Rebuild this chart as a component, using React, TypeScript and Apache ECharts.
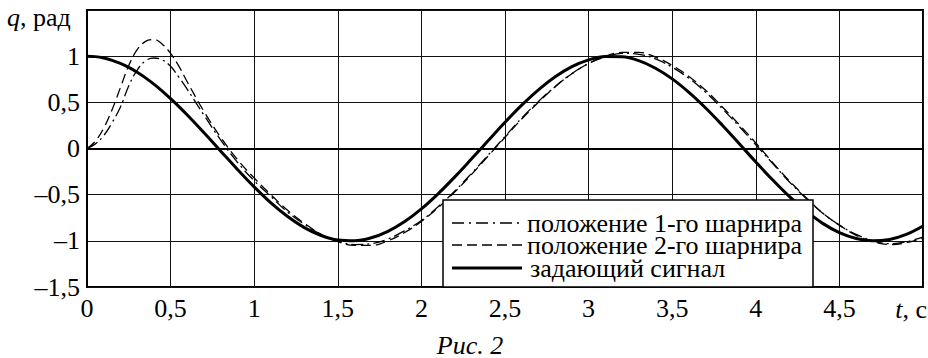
import React, { useEffect, useRef } from "react";
import * as echarts from "echarts";

const times = [0, 0.05, 0.1, 0.15, 0.2, 0.25, 0.3, 0.35, 0.4, 0.45, 0.5, 0.55, 0.6, 0.7, 0.8, 0.9, 1.0, 1.1, 1.2, 1.3, 1.4, 1.5, 1.6, 1.7, 1.8, 1.9, 2.0, 2.1, 2.2, 2.3, 2.4, 2.5, 2.6, 2.7, 2.8, 2.9, 3.0, 3.1, 3.2, 3.3, 3.4, 3.5, 3.6, 3.7, 3.8, 3.9, 4.0, 4.1, 4.2, 4.3, 4.4, 4.5, 4.6, 4.7, 4.8, 4.9, 5.0];

const joint1 = [0, 0.05, 0.14, 0.28, 0.45, 0.68, 0.85, 0.95, 0.98, 0.96, 0.89, 0.77, 0.64, 0.36, 0.09, -0.15, -0.35, -0.52, -0.69, -0.82, -0.93, -1.0, -1.04, -1.03, -0.98, -0.89, -0.78, -0.63, -0.46, -0.27, -0.07, 0.13, 0.33, 0.51, 0.67, 0.81, 0.92, 0.99, 1.03, 1.02, 0.97, 0.88, 0.76, 0.61, 0.43, 0.24, 0.04, -0.16, -0.36, -0.54, -0.7, -0.83, -0.93, -1.0, -1.03, -1.01, -0.96];

const joint2 = [0, 0.08, 0.22, 0.42, 0.66, 0.9, 1.07, 1.16, 1.18, 1.13, 1.03, 0.89, 0.72, 0.4, 0.12, -0.12, -0.32, -0.5, -0.67, -0.81, -0.93, -1.01, -1.05, -1.05, -1.0, -0.91, -0.79, -0.64, -0.47, -0.28, -0.08, 0.12, 0.32, 0.5, 0.67, 0.81, 0.92, 1.0, 1.04, 1.04, 0.99, 0.9, 0.78, 0.63, 0.45, 0.26, 0.06, -0.15, -0.35, -0.53, -0.7, -0.83, -0.94, -1.01, -1.04, -1.02, -0.97];

const reference = [1, 0.995, 0.98, 0.955, 0.921, 0.878, 0.825, 0.765, 0.697, 0.622, 0.54, 0.454, 0.362, 0.17, -0.029, -0.227, -0.416, -0.589, -0.737, -0.857, -0.942, -0.99, -0.998, -0.967, -0.897, -0.791, -0.654, -0.49, -0.307, -0.112, 0.087, 0.284, 0.469, 0.635, 0.776, 0.886, 0.96, 0.997, 0.993, 0.951, 0.869, 0.754, 0.608, 0.439, 0.252, 0.054, -0.146, -0.339, -0.519, -0.676, -0.811, -0.911, -0.975, -1.0, -0.985, -0.93, -0.839];

const seriesNames = ["положение 1-го шарнира", "положение 2-го шарнира", "задающий сигнал"];
const yAxisTitle = "q";
const yAxisUnit = ", рад";
const xAxisTitle = "t";
const xAxisUnit = ", с";
const caption = "Рис. 2";

const FONT = "Liberation Serif";

const pair = (vals: number[]) => times.map((t, i) => [t, vals[i]]);

const fmtNum = (v: number) => (v < 0 ? "–" : "") + String(Math.abs(v)).replace(".", ",");

export default function App() {
  const ref = useRef<HTMLDivElement>(null);
  useEffect(() => {
    if (!ref.current) return;
    const chart = echarts.init(ref.current, null, { renderer: "svg" });
    const lx = 443, ly = 200, lw = 370, lh = 87;
    const rows = [223, 245, 268];
    const dashes: any[] = [[12, 5, 2, 5], [10, 5], null];
    const widths = [1.3, 1.3, 3];
    const legendEls: any[] = [
      { type: "rect", shape: { x: lx, y: ly, width: lw, height: lh }, style: { fill: "#fff", stroke: "#000", lineWidth: 1.5 }, z: 100 },
    ];
    seriesNames.forEach((name, i) => {
      legendEls.push({
        type: "line",
        shape: { x1: 452, y1: rows[i], x2: 522, y2: rows[i] },
        style: { stroke: "#000", lineWidth: widths[i], lineDash: dashes[i] || undefined },
        z: 101,
      });
      legendEls.push({
        type: "text",
        x: i === 2 ? 530 : 527,
        y: rows[i],
        style: {
          text: name,
          fontFamily: FONT,
          fontSize: 26,
          lineHeight: 21,
          fill: "#000",
          verticalAlign: "middle",
          align: "left",
        },
        z: 101,
      });
    });
    chart.setOption({
      animation: false,
      backgroundColor: "#fff",
      textStyle: { fontFamily: FONT },
      grid: { left: 87, right: 5, top: 10, bottom: 71, show: true, borderColor: "#000", borderWidth: 2 },
      xAxis: {
        type: "value",
        min: 0,
        max: 5,
        interval: 0.5,
        axisLine: { show: true, lineStyle: { color: "#000", width: 2 } },
        axisTick: { show: false },
        splitLine: { show: true, lineStyle: { color: "#111", width: 1 } },
        axisLabel: {
          margin: 8,
          color: "#000",
          fontFamily: FONT,
          fontSize: 26,
          formatter: (v: number) => (v === 5 ? "" : fmtNum(v)),
        },
      },
      yAxis: {
        type: "value",
        min: -1.5,
        max: 1.5,
        interval: 0.5,
        axisLine: { show: true, lineStyle: { color: "#000", width: 1.5 } },
        axisTick: { show: false },
        splitLine: { show: true, lineStyle: { color: "#111", width: 1 } },
        axisLabel: {
          margin: 7,
          color: "#000",
          fontFamily: FONT,
          fontSize: 26,
          padding: [8, 0, 0, 0],
          formatter: (v: number) => (v === 1.5 ? "" : fmtNum(v)),
        },
      },
      series: [
        {
          name: seriesNames[0],
          type: "line",
          data: pair(joint1),
          showSymbol: false,
          smooth: 0.4,
          lineStyle: { color: "#000", width: 1.3, type: [12, 4, 2, 4] },
        },
        {
          name: seriesNames[1],
          type: "line",
          data: pair(joint2),
          showSymbol: false,
          smooth: 0.4,
          lineStyle: { color: "#000", width: 1.3, type: [10, 5] },
        },
        {
          name: seriesNames[2],
          type: "line",
          data: pair(reference),
          showSymbol: false,
          smooth: 0.4,
          lineStyle: { color: "#000", width: 3 },
        },
      ],
      graphic: [
        ...legendEls,
        {
          type: "text",
          x: 7,
          y: 17,
          style: {
            text: `{i|${yAxisTitle}}{n|${yAxisUnit}}`,
            fill: "#000",
            verticalAlign: "middle",
            rich: {
              i: { fontStyle: "italic", fontFamily: FONT, fontSize: 26 },
              n: { fontFamily: FONT, fontSize: 26 },
            },
          },
        },
        {
          type: "text",
          x: 927,
          y: 309,
          style: {
            text: `{i|${xAxisTitle}}{n|${xAxisUnit}}`,
            fill: "#000",
            align: "right",
            verticalAlign: "middle",
            rich: {
              i: { fontStyle: "italic", fontFamily: FONT, fontSize: 26 },
              n: { fontFamily: FONT, fontSize: 26 },
            },
          },
        },
        {
          type: "text",
          x: 470,
          y: 345,
          style: {
            text: caption,
            fontFamily: FONT,
            fontSize: 26,
            fontStyle: "italic",
            fill: "#000",
            align: "center",
            verticalAlign: "middle",
          },
        },
      ],
    });
    return () => chart.dispose();
  }, []);
  return (
    <div
      ref={ref}
      style={{ position: "fixed", left: 0, top: 0, width: 928, height: 358, background: "#fff" }}
    />
  );
}
